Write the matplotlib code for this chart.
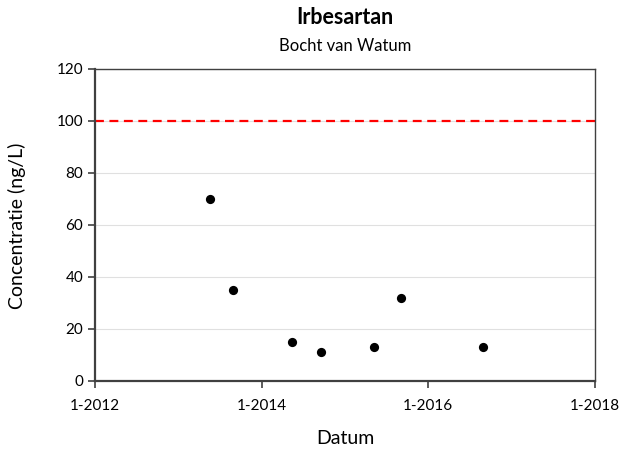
import matplotlib
matplotlib.use("Agg")
import matplotlib.pyplot as plt
import matplotlib.dates as mdates
import numpy as np
import datetime as dt

plt.rcParams['font.family'] = ['Lato', 'DejaVu Sans']

dates = ["2013-05-20", "2013-08-29", "2014-05-12", "2014-09-16",
         "2015-05-08", "2015-09-03", "2016-08-30"]
values = [70, 35, 15, 11, 13, 32, 13]
norm_value = 100
title = "Irbesartan"
subtitle = "Bocht van Watum"
y_ticks = [0, 20, 40, 60, 80, 100, 120]
x_ticks = ["2012-01-01", "2014-01-01", "2016-01-01", "2018-01-01"]

x = [dt.datetime.strptime(d, "%Y-%m-%d") for d in dates]
xt = [dt.datetime.strptime(d, "%Y-%m-%d") for d in x_ticks]

fig = plt.figure(figsize=(6.2, 4.53), dpi=100)
ax = fig.add_axes([95/620, 1-381/453, 500/620, 312/453])

ax.set_ylim(0, 120)
ax.set_xlim(xt[0], xt[-1])
ax.set_yticks(y_ticks)
ax.set_xticks(xt)
ax.xaxis.set_major_formatter(mdates.DateFormatter("1-%Y"))

ax.grid(axis='y', color='#e0e0e0', linewidth=0.8)
ax.set_axisbelow(True)
ax.axhline(norm_value, color='#ff0000', linestyle=(0, (4, 2.5)), linewidth=1.6, zorder=2)
ax.scatter(x, values, s=44, color='black', zorder=3, linewidths=0)

for s in ax.spines.values():
    s.set_color('#404040')
    s.set_linewidth(1.0)
ax.spines['left'].set_linewidth(1.6)
ax.spines['bottom'].set_linewidth(1.6)

ax.tick_params(axis='both', direction='out', length=5, width=1.2, color='#404040',
               labelsize=11, labelcolor='black')
ax.tick_params(axis='x', pad=8)

fig.text(345/620, 1-18/453, title, ha='center', va='center', fontsize=15.5, fontweight='bold')
fig.text(345/620, 1-46/453, subtitle, ha='center', va='center', fontsize=12)
fig.text(345/620, 1-438/453, "Datum", ha='center', va='center', fontsize=14)
fig.text(17/620, 1-226/453, "Concentratie (ng/L)", ha='center', va='center', fontsize=14, rotation=90)

fig.savefig("out.png", dpi=100)
